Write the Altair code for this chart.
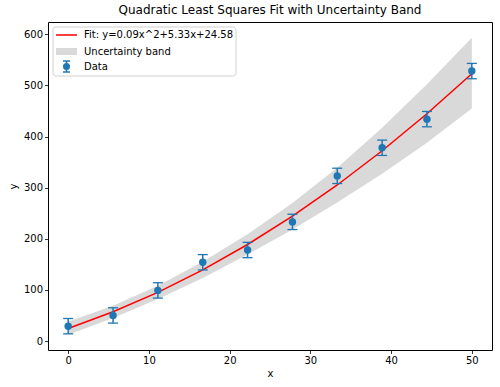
import altair as alt
import pandas as pd

# Data
x_vals = [0.0, 5.56, 11.11, 16.67, 22.22, 27.78, 33.33, 38.89, 44.44, 50.0]
y_vals = [29, 50, 99, 154, 178, 233, 323, 378, 434, 528]
y_err = [15, 15, 15, 15, 15, 15, 15, 15, 15, 15]
fit_vals = [24.6, 57.1, 95.2, 139.2, 188.8, 244.2, 305.2, 372.1, 444.6, 522.9]
band_lower = [12, 45, 82, 123, 169, 218, 271, 327, 388, 455]
band_upper = [38, 69, 108, 155, 209, 270, 339, 417, 502, 593]

legend_labels = ["Fit: y=0.09x^2+5.33x+24.58", "Uncertainty band", "Data"]

df = pd.DataFrame({
    "x": x_vals,
    "y": y_vals,
    "lo": [v - e for v, e in zip(y_vals, y_err)],
    "hi": [v + e for v, e in zip(y_vals, y_err)],
    "fit": fit_vals,
    "lower": band_lower,
    "upper": band_upper,
})

FONT = "DejaVu Sans"
BLUE = "#1f77b4"

xs = alt.Scale(domain=[-2.5, 52.5], nice=False, zero=False)
ys = alt.Scale(domain=[-17.6, 624], nice=False, zero=False)
xax = alt.Axis(values=[0, 10, 20, 30, 40, 50], title="x", grid=False)
yax = alt.Axis(values=[0, 100, 200, 300, 400, 500, 600], title="y", grid=False)

base = alt.Chart(df)

band = base.mark_area(color="gray", opacity=0.3).encode(
    x=alt.X("x:Q", scale=xs, axis=xax),
    y=alt.Y("lower:Q", scale=ys, axis=yax),
    y2="upper:Q",
)
fit = base.mark_line(color="red", strokeWidth=1.5).encode(
    x=alt.X("x:Q", scale=xs), y=alt.Y("fit:Q", scale=ys)
)
err = base.mark_rule(color=BLUE, strokeWidth=1.5).encode(
    x=alt.X("x:Q", scale=xs), y=alt.Y("lo:Q", scale=ys), y2="hi:Q"
)
cap_lo = base.mark_tick(color=BLUE, orient="horizontal", size=10, thickness=1.3, opacity=1).encode(
    x=alt.X("x:Q", scale=xs), y=alt.Y("lo:Q", scale=ys)
)
cap_hi = base.mark_tick(color=BLUE, orient="horizontal", size=10, thickness=1.3, opacity=1).encode(
    x=alt.X("x:Q", scale=xs), y=alt.Y("hi:Q", scale=ys)
)
pts = base.mark_circle(color=BLUE, size=55, opacity=1).encode(
    x=alt.X("x:Q", scale=xs), y=alt.Y("y:Q", scale=ys)
)

# Legend (drawn manually, matplotlib style)
one = pd.DataFrame({"label": [legend_labels[0]]})
lg_box = alt.Chart(one).mark_rect(
    fill="white", stroke="#cccccc", strokeWidth=1, cornerRadius=3, opacity=0.9
).encode(x=alt.value(5), x2=alt.value(188), y=alt.value(5), y2=alt.value(54))
lg_line = alt.Chart(one).mark_rule(color="red", strokeWidth=1.5).encode(
    x=alt.value(8), x2=alt.value(29), y=alt.value(13)
)
lg_patch = alt.Chart(one).mark_rect(color="gray", opacity=0.3).encode(
    x=alt.value(8), x2=alt.value(29), y=alt.value(26), y2=alt.value(33)
)
lg_err = alt.Chart(one).mark_rule(color=BLUE, strokeWidth=1.5).encode(
    x=alt.value(18.5), y=alt.value(39), y2=alt.value(50)
)
lg_cap1 = alt.Chart(one).mark_rule(color=BLUE, strokeWidth=1.5).encode(
    x=alt.value(15), x2=alt.value(22), y=alt.value(39)
)
lg_cap2 = alt.Chart(one).mark_rule(color=BLUE, strokeWidth=1.5).encode(
    x=alt.value(15), x2=alt.value(22), y=alt.value(50)
)
lg_dot = alt.Chart(one).mark_circle(color=BLUE, size=50, opacity=1).encode(
    x=alt.value(18.5), y=alt.value(44.5)
)
lg_texts = []
for lab, yy in zip(legend_labels, [13, 29.5, 44.5]):
    lg_texts.append(
        alt.Chart(pd.DataFrame({"label": [lab]})).mark_text(
            align="left", baseline="middle", font=FONT, fontSize=10, color="black"
        ).encode(x=alt.value(36), y=alt.value(yy), text="label:N")
    )

chart = alt.layer(
    band, fit, err, cap_lo, cap_hi, pts,
    lg_box, lg_line, lg_patch, lg_err, lg_cap1, lg_cap2, lg_dot, *lg_texts
).properties(
    width=444,
    height=328,
    title=alt.TitleParams(
        "Quadratic Least Squares Fit with Uncertainty Band",
        font=FONT, fontSize=12, fontWeight="normal", color="black",
        anchor="middle", offset=5,
    ),
    autosize=alt.AutoSizeParams(type="none"),
    padding={"left": 48, "top": 22, "right": 8, "bottom": 37},
).configure_view(
    stroke="black", strokeWidth=1
).configure_axis(
    domain=False,
    tickColor="black",
    tickSize=3.5,
    tickWidth=0.8,
    labelFont=FONT,
    labelFontSize=10,
    labelColor="black",
    labelPadding=2,
    titleFont=FONT,
    titleFontSize=10,
    titleFontWeight="normal",
    titleColor="black",
).configure_axisX(titlePadding=3).configure_axisY(titlePadding=5)

chart.save("out.html", embed_options={"renderer": "svg", "actions": False})
